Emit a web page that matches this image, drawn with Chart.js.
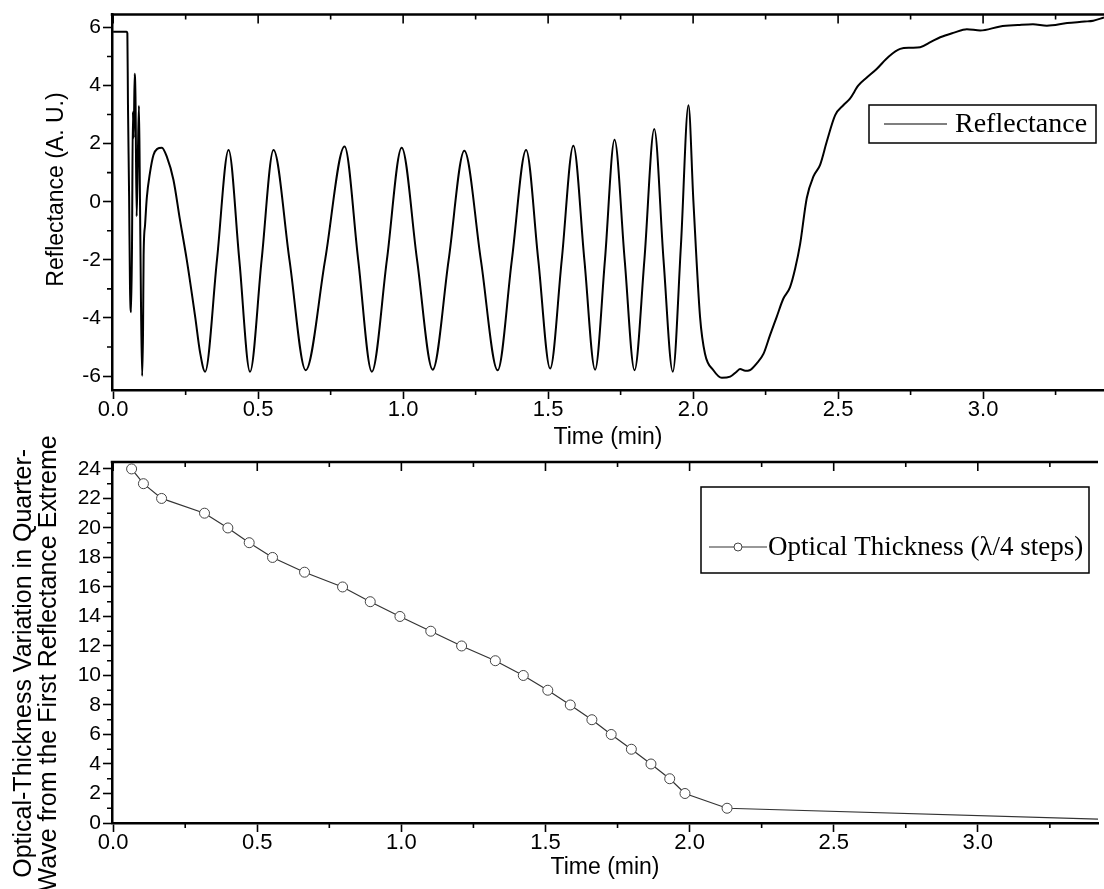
<!DOCTYPE html>
<html>
<head>
<meta charset="utf-8">
<script src="https://cdn.jsdelivr.net/npm/chart.js@4.4.0/dist/chart.umd.min.js"></script>
<style>
html, body { margin: 0; padding: 0; background: #fff; }
body { width: 1104px; height: 889px; position: relative; overflow: hidden; }
canvas { position: absolute; left: 0; }
#top { top: 0; }
#bottom { top: 420px; }
</style>
</head>
<body>
<canvas id="top" width="1104" height="455"></canvas>
<canvas id="bottom" width="1104" height="469"></canvas>
<script>
// reflectance trace (time in min, reflectance in A.U.)
var timeR = [0.000, 0.046, 0.049, 0.051, 0.055, 0.058, 0.062, 0.065, 0.068, 0.071,
  0.074, 0.077, 0.081, 0.085, 0.089, 0.092, 0.096, 0.100, 0.103, 0.105,
  0.110, 0.116, 0.127, 0.139, 0.152, 0.168, 0.185, 0.208, 0.230, 0.254,
  0.283, 0.300, 0.317, 0.358, 0.398, 0.435, 0.472, 0.512, 0.553, 0.608,
  0.664, 0.731, 0.798, 0.845, 0.892, 0.944, 0.995, 1.048, 1.102, 1.157,
  1.211, 1.268, 1.326, 1.375, 1.424, 1.466, 1.507, 1.547, 1.587, 1.625,
  1.662, 1.696, 1.729, 1.764, 1.798, 1.832, 1.866, 1.898, 1.930, 1.958,
  1.984, 2.001, 2.024, 2.041, 2.070, 2.099, 2.128, 2.150, 2.162, 2.180,
  2.195, 2.219, 2.243, 2.265, 2.288, 2.311, 2.334, 2.352, 2.369, 2.392,
  2.415, 2.438, 2.461, 2.490, 2.518, 2.541, 2.570, 2.600, 2.633, 2.675,
  2.714, 2.750, 2.783, 2.820, 2.852, 2.900, 2.944, 2.990, 3.059, 3.120,
  3.172, 3.220, 3.290, 3.350, 3.380, 3.417];
var reflect = [5.85, 5.85, 5.80, 3.40, 0.20, -2.90, -3.80, -1.50, 3.10, 2.20,
  4.40, 3.60, -0.50, 1.50, 3.30, 0.60, -3.50, -6.00, -4.50, -1.86,
  -0.80, 0.13, 1.00, 1.61, 1.82, 1.86, 1.55, 0.75, -0.60, -2.01,
  -3.97, -5.20, -5.85, -2.00, 1.78, -2.00, -5.85, -2.00, 1.78, -2.00,
  -5.80, -2.00, 1.90, -2.00, -5.85, -2.00, 1.86, -2.00, -5.78, -2.00,
  1.75, -2.00, -5.80, -2.00, 1.78, -2.00, -5.74, -2.00, 1.93, -2.00,
  -5.78, -2.00, 2.13, -2.00, -5.80, -2.00, 2.50, -2.00, -5.85, -1.50,
  3.32, 0.02, -3.97, -5.23, -5.80, -6.06, -6.02, -5.85, -5.76, -5.82,
  -5.80, -5.57, -5.23, -4.60, -3.97, -3.34, -2.95, -2.30, -1.46, 0.13,
  0.87, 1.27, 2.07, 2.98, 3.32, 3.55, 4.00, 4.28, 4.57, 5.00,
  5.26, 5.30, 5.32, 5.50, 5.66, 5.82, 5.94, 5.89, 6.03, 6.08,
  6.11, 6.06, 6.15, 6.20, 6.23, 6.34];

// optical thickness at each reflectance extreme (quarter-wave steps)
var timeOT = [0.064, 0.105, 0.168, 0.317, 0.398, 0.472, 0.553, 0.664, 0.796, 0.892,
  0.995, 1.102, 1.209, 1.326, 1.423, 1.508, 1.586, 1.661, 1.728, 1.798,
  1.866, 1.931, 1.984, 2.130, 3.880];
var optThick = [24, 23, 22, 21, 20, 19, 18, 17, 16, 15,
  14, 13, 12, 11, 10, 9, 8, 7, 6, 5,
  4, 3, 2, 1, 0];

var timeTicks = [0, 0.5, 1.0, 1.5, 2.0, 2.5, 3.0];
var timeMinor = [0.25, 0.75, 1.25, 1.75, 2.25, 2.75, 3.25];
var reflTicks = [-6, -4, -2, 0, 2, 4, 6];
var reflMinor = [-5, -3, -1, 1, 3, 5];
var otTicks = [0, 2, 4, 6, 8, 10, 12, 14, 16, 18, 20, 22, 24];
var otMinor = [1, 3, 5, 7, 9, 11, 13, 15, 17, 19, 21, 23];

var sans = '"Liberation Sans", Arial, sans-serif';
var serif = '"Liberation Serif", "Times New Roman", serif';

// frame: top border, inward top ticks, minor ticks, boxed legend
var frame = {
  id: 'frame',
  afterDraw: function (chart, args, o) {
    var ctx = chart.ctx, a = chart.chartArea;
    var xs = chart.scales.x, ys = chart.scales.y;
    ctx.save();
    ctx.strokeStyle = '#000';
    ctx.lineWidth = 2.5;
    ctx.beginPath();
    ctx.moveTo(a.left - 1.25, a.top);
    ctx.lineTo(a.right, a.top);
    ctx.stroke();

    ctx.lineWidth = 1.6;
    ctx.beginPath();
    o.xMajor.forEach(function (v) {
      var p = xs.getPixelForValue(v);
      ctx.moveTo(p, a.top); ctx.lineTo(p, a.top + 9);
    });
    o.xMinor.forEach(function (v) {
      var p = xs.getPixelForValue(v);
      ctx.moveTo(p, a.top); ctx.lineTo(p, a.top + 5);
      ctx.moveTo(p, a.bottom); ctx.lineTo(p, a.bottom + 5);
    });
    o.yMinor.forEach(function (v) {
      var p = ys.getPixelForValue(v);
      ctx.moveTo(a.left, p); ctx.lineTo(a.left - 5, p);
    });
    ctx.stroke();

    var L = o.legend, ds = chart.data.datasets[0];
    ctx.lineWidth = 1.5;
    ctx.strokeRect(L.x0, L.y0, L.x1 - L.x0, L.y1 - L.y0);
    ctx.strokeStyle = ds.borderColor;
    ctx.lineWidth = 1.2;
    ctx.beginPath();
    ctx.moveTo(L.lx0, L.ly); ctx.lineTo(L.lx1, L.ly);
    ctx.stroke();
    if (L.marker) {
      ctx.beginPath();
      ctx.arc((L.lx0 + L.lx1) / 2, L.ly, 4, 0, Math.PI * 2);
      ctx.fillStyle = '#fff';
      ctx.fill();
      ctx.strokeStyle = ds.pointBorderColor;
      ctx.lineWidth = 1;
      ctx.stroke();
    }
    ctx.fillStyle = '#000';
    ctx.font = L.size + 'px ' + serif;
    ctx.textBaseline = 'middle';
    ctx.textAlign = 'left';
    ctx.fillText(ds.label, L.tx, L.ly + 1);
    ctx.restore();
  }
};

function fixedTicks(list) {
  return function (scale) {
    scale.ticks = list.map(function (v) { return { value: v }; });
  };
}

function axisX(height, titlePad) {
  return {
    type: 'linear',
    min: -0.004,
    max: 3.417,
    afterBuildTicks: fixedTicks(timeTicks),
    afterFit: function (s) { s.height = height; },
    border: { display: true, color: '#000', width: 2.5 },
    grid: { display: true, drawOnChartArea: false, drawTicks: true, tickLength: 9, tickWidth: 1.6, tickColor: '#000' },
    ticks: { color: '#000', font: { family: sans, size: 22 }, padding: -2, maxRotation: 0,
      callback: function (v) { return v.toFixed(1); } },
    title: { display: true, text: 'Time (min)', color: '#000', font: { family: sans, size: 23 }, padding: titlePad }
  };
}

function axisY(min, max, list, title, titleSize, titlePad) {
  return {
    type: 'linear',
    min: min,
    max: max,
    afterBuildTicks: fixedTicks(list),
    afterFit: function (s) { s.width = 112; },
    border: { display: true, color: '#000', width: 2.5 },
    grid: { display: true, drawOnChartArea: false, drawTicks: true, tickLength: 9, tickWidth: 1.6, tickColor: '#000' },
    ticks: { color: '#000', font: { family: sans, size: 21 }, padding: 2 },
    title: { display: true, text: title, color: '#000', font: { family: sans, size: titleSize, lineHeight: 1.0 }, padding: titlePad }
  };
}

new Chart(document.getElementById('top').getContext('2d'), {
  type: 'line',
  data: {
    datasets: [{
      label: 'Reflectance',
      data: timeR.map(function (t, i) { return { x: t, y: reflect[i] }; }),
      borderColor: '#000',
      borderWidth: 2,
      pointRadius: 0,
      cubicInterpolationMode: 'monotone',
      fill: false
    }]
  },
  options: {
    responsive: false,
    animation: false,
    devicePixelRatio: 1,
    layout: { padding: { top: 12, right: 0, left: 0, bottom: 0 } },
    plugins: {
      legend: { display: false },
      tooltip: { enabled: false },
      frame: {
        xMajor: timeTicks, xMinor: timeMinor, yMinor: reflMinor,
        legend: { x0: 869, y0: 105, x1: 1096, y1: 143, lx0: 884, lx1: 947, ly: 124, tx: 955, size: 28, marker: false }
      }
    },
    scales: {
      x: axisX(65, { top: 0, bottom: 4 }),
      y: axisY(-6.48, 6.44, reflTicks, '    Reflectance (A. U.)', 23, { top: 45, bottom: 0 })
    }
  },
  plugins: [frame]
});

new Chart(document.getElementById('bottom').getContext('2d'), {
  type: 'line',
  data: {
    datasets: [{
      label: 'Optical Thickness (\u03bb/4 steps)',
      data: timeOT.map(function (t, i) { return { x: t, y: optThick[i] }; }),
      borderColor: '#333',
      borderWidth: 1.2,
      pointRadius: 5,
      pointBackgroundColor: '#fff',
      pointBorderColor: '#444',
      pointBorderWidth: 1,
      tension: 0,
      fill: false
    }]
  },
  options: {
    responsive: false,
    animation: false,
    devicePixelRatio: 1,
    layout: { padding: { top: 42, right: 0, left: 0, bottom: 0 } },
    plugins: {
      legend: { display: false },
      tooltip: { enabled: false },
      frame: {
        xMajor: timeTicks, xMinor: timeMinor, yMinor: otMinor,
        legend: { x0: 701, y0: 67, x1: 1089, y1: 153, lx0: 709, lx1: 767, ly: 127, tx: 768, size: 27, marker: true }
      }
    },
    scales: {
      x: axisX(66, { top: 0, bottom: 8 }),
      y: axisY(0, 24.47, otTicks,
        ['Optical-Thickness Variation in Quarter-      ', 'Wave from the First Reflectance Extreme      '],
        25, { top: 12, bottom: 0 })
    }
  },
  plugins: [frame]
});
</script>
</body>
</html>
